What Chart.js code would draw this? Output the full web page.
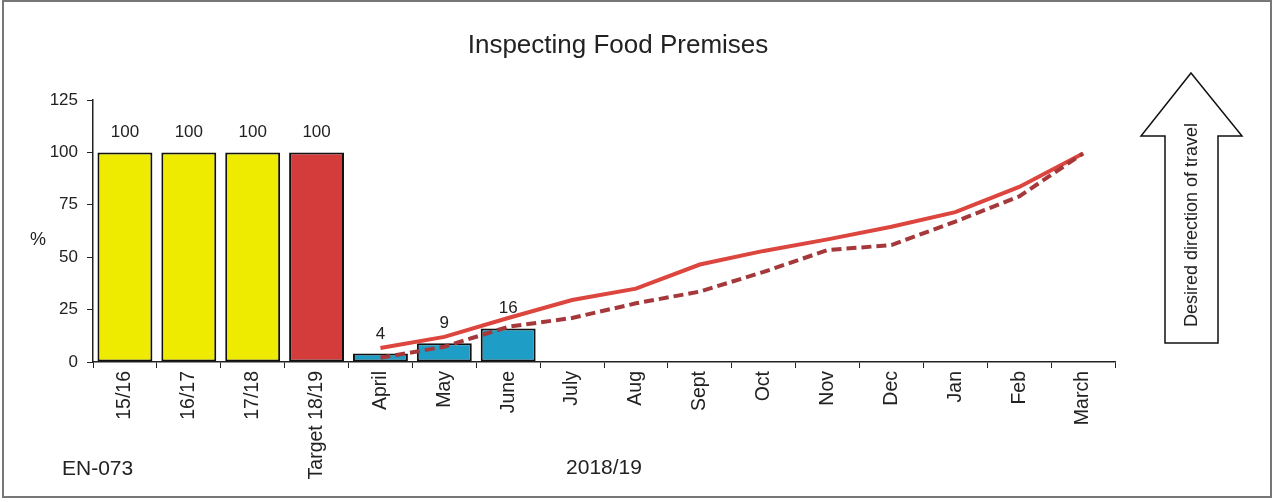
<!DOCTYPE html>
<html>
<head>
<meta charset="utf-8">
<script src="https://cdn.jsdelivr.net/npm/chart.js@4/dist/chart.umd.min.js"></script>
<style>
  body { margin: 0; background: #fff; }
  canvas { display: block; }
</style>
</head>
<body>
<canvas id="foodChart" width="1275" height="502"></canvas>
<script>
// categories along the x axis
const categories = ["15/16", "16/17", "17/18", "Target 18/19", "April", "May", "June",
  "July", "Aug", "Sept", "Oct", "Nov", "Dec", "Jan", "Feb", "March"];

// bar values (%), blank where no result yet
const barValues = [100, 100, 100, 100, 4, 9, 16, null, null, null, null, null, null, null, null, null];

// profile lines over the year (%)
const targetProfile = [null, null, null, null, 6.7, 12, 21, 29.6, 35, 46.5, 53, 58.5, 64.5, 71.5, 83.5, 99.5];
const lastYearProfile = [null, null, null, null, 2, 7.3, 16.8, 21, 28, 33.6, 43, 53.4, 55.8, 67, 79, 99.5];

const yTicks = [0, 25, 50, 75, 100, 125];

const FONT = "'Liberation Sans', Arial, sans-serif";
const barColours = categories.map((c, i) => (i < 3 ? "#eeea00" : i === 3 ? "#d43c3c" : "#1e9ec6"));

const extras = {
  id: "extras",
  afterDatasetsDraw(chart) {
    // value labels above bars
    const ctx = chart.ctx;
    const meta = chart.getDatasetMeta(0);
    ctx.save();
    ctx.font = "17px " + FONT;
    ctx.fillStyle = "#222";
    ctx.textAlign = "center";
    ctx.textBaseline = "alphabetic";
    meta.data.forEach((bar, i) => {
      if (barValues[i] == null) return;
      ctx.fillText(String(barValues[i]), bar.x, bar.y - 15);
    });
    ctx.restore();
  },
  afterDraw(chart) {
    const ctx = chart.ctx;
    ctx.save();
    // frame round the picture
    ctx.strokeStyle = "#777";
    ctx.lineWidth = 2;
    ctx.strokeRect(3, 1, 1268, 496);

    ctx.fillStyle = "#222";
    ctx.textBaseline = "middle";
    ctx.textAlign = "center";
    ctx.font = "26px " + FONT;
    ctx.fillText("Inspecting Food Premises", 618, 46);

    ctx.font = "18px " + FONT;
    ctx.fillText("%", 38, 240);
    ctx.textAlign = "left";
    ctx.font = "21px " + FONT;
    ctx.fillText("EN-073", 62, 469);

    // arrow
    ctx.beginPath();
    ctx.moveTo(1191, 73);
    ctx.lineTo(1242, 136);
    ctx.lineTo(1218, 136);
    ctx.lineTo(1218, 343);
    ctx.lineTo(1165, 343);
    ctx.lineTo(1165, 136);
    ctx.lineTo(1141, 136);
    ctx.closePath();
    ctx.fillStyle = "#fff";
    ctx.fill();
    ctx.strokeStyle = "#111";
    ctx.lineWidth = 1.5;
    ctx.stroke();

    ctx.translate(1192, 225);
    ctx.rotate(-Math.PI / 2);
    ctx.textAlign = "center";
    ctx.fillStyle = "#222";
    ctx.font = "18px " + FONT;
    ctx.fillText("Desired direction of travel", 0, 0);
    ctx.restore();
  }
};

new Chart(document.getElementById("foodChart"), {
  type: "bar",
  data: {
    labels: categories,
    datasets: [
      {
        type: "bar",
        data: barValues,
        backgroundColor: barColours,
        borderColor: "#111",
        borderWidth: 2,
        borderSkipped: false,
        barPercentage: 0.86,
        categoryPercentage: 1,
        order: 2,
      },
      {
        type: "line",
        data: targetProfile,
        borderColor: "#dc463e",
        borderWidth: 4,
        pointRadius: 0,
        tension: 0,
        order: 1,
      },
      {
        type: "line",
        data: lastYearProfile,
        borderColor: "#a5383a",
        borderWidth: 4,
        borderDash: [10, 5],
        pointRadius: 0,
        tension: 0,
        order: 0,
      },
    ],
  },
  options: {
    responsive: false,
    animation: false,
    layout: { padding: { top: 100, right: 160, left: 0, bottom: 0 } },
    plugins: {
      legend: { display: false },
      tooltip: { enabled: false },
      title: { display: false },
    },
    scales: {
      x: {
        grid: { display: true, drawOnChartArea: false, color: "#222", tickLength: 6, offset: true },
        border: { color: "#222", width: 1.5 },
        ticks: {
          font: { family: FONT, size: 19.5 },
          color: "#222",
          minRotation: 90,
          maxRotation: 90,
          padding: 3,
        },
        title: {
          display: true,
          text: "2018/19",
          font: { family: FONT, size: 21 },
          color: "#222",
          padding: { top: 0, bottom: 21 },
        },
        afterFit(scale) { scale.height = 140; },
      },
      y: {
        min: 0,
        max: 125,
        afterBuildTicks(scale) { scale.ticks = yTicks.map((v) => ({ value: v })); },
        grid: { display: true, drawOnChartArea: false, color: "#222", tickLength: 6 },
        border: { color: "#222", width: 1.5 },
        ticks: {
          font: { family: FONT, size: 17 },
          color: "#222",
          padding: 9,
        },
        afterFit(scale) { scale.width = 93; },
      },
    },
  },
  plugins: [extras],
});
</script>
</body>
</html>
